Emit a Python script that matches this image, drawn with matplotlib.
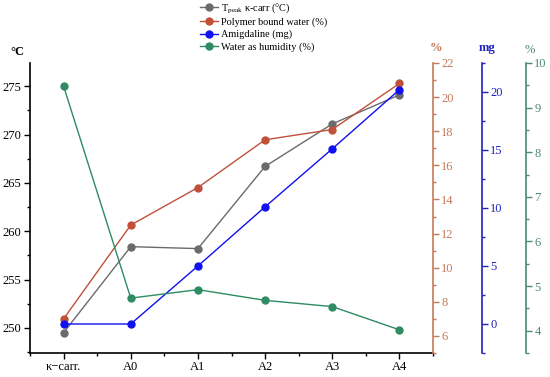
import numpy as np
from matplotlib import pyplot as plt
from matplotlib.ticker import MultipleLocator
from matplotlib.legend_handler import HandlerLine2D

plt.rcParams['font.family'] = ['Liberation Serif', 'DejaVu Serif']
plt.rcParams['mathtext.fontset'] = 'stix'

samples = ['κ−carr.', 'A0', 'A1', 'A2', 'A3', 'A4']
t_peak = [249.5, 258.4, 258.2, 266.7, 271.1, 274.1]
bound_water = [7.0, 12.5, 14.7, 17.5, 18.1, 20.8]
amigdaline = [0.0, 0.0, 5.0, 10.1, 15.1, 20.2]
humidity = [9.48, 4.73, 4.92, 4.68, 4.54, 4.02]

c_gray = '#6b6b6b'
c_red = '#c0503a'
c_red_ax = '#c47a5a'
c_blue = '#1010f0'
c_blue_ax = '#2020c0'
c_green = '#2e8b62'
c_green_ax = '#4a8a6e'


class LeftMarker(HandlerLine2D):
    # marker on the left end of the legend line, like the original
    def get_xdata(self, legend, xdescent, ydescent, width, height, fontsize):
        xdata = np.array([-xdescent, -xdescent + width])
        return xdata, np.array([-xdescent + 1.5])


x = np.arange(len(samples))

fig = plt.figure(figsize=(5.5, 3.77), dpi=100)
ax = fig.add_axes([30/550, 24/377, 403/550, 290/377])
ax2 = ax.twinx()
ax3 = ax.twinx()
ax4 = ax.twinx()
ax3.spines['right'].set_position(('axes', 1.1216))
ax4.spines['right'].set_position(('axes', 1.2308))

l1, = ax.plot(x, t_peak, '-o', color=c_gray, ms=5, lw=1, label=r'T$_{\rm peak}$ κ-carr (°C)')
l2, = ax2.plot(x, bound_water, '-o', color=c_red, ms=5, lw=1, label='Polymer bound water (%)')
l3, = ax3.plot(x, amigdaline, '-o', color=c_blue, ms=5, lw=1, label='Amigdaline (mg)')
l4, = ax4.plot(x, humidity, '-o', color=c_green, ms=5, lw=1, label='Water as humidity (%)')

ax.set_xlim(-0.5, 5.5)
ax.set_xticks(x)
ax.set_xticklabels(samples)
ax.xaxis.set_minor_locator(MultipleLocator(0.5))
ax.set_ylim(247.4, 277.4)
ax.yaxis.set_major_locator(MultipleLocator(5))
ax.yaxis.set_minor_locator(MultipleLocator(2.5))

ax2.set_ylim(5, 22)
ax2.yaxis.set_major_locator(MultipleLocator(2))
ax2.yaxis.set_minor_locator(MultipleLocator(1))
ax3.set_ylim(-2.5, 22.5)
ax3.yaxis.set_major_locator(MultipleLocator(5))
ax3.yaxis.set_minor_locator(MultipleLocator(2.5))
ax4.set_ylim(3.5, 10)
ax4.yaxis.set_major_locator(MultipleLocator(1))
ax4.yaxis.set_minor_locator(MultipleLocator(0.5))

ax.spines['top'].set_visible(False)
ax.spines['right'].set_visible(False)
for a in (ax2, ax3, ax4):
    a.spines['top'].set_visible(False)
    a.spines['left'].set_visible(False)
    a.spines['bottom'].set_visible(False)

ax.tick_params(which='both', direction='out', labelsize=9, width=1, pad=2)
ax.tick_params(which='major', length=4)
ax.tick_params(which='minor', length=2.5)
for a, ca in ((ax2, c_red_ax), (ax3, c_blue_ax), (ax4, c_green_ax)):
    a.spines['right'].set_color(ca)
    a.spines['right'].set_linewidth(1.2)
    a.tick_params(which='both', colors=ca, labelsize=9, width=1, pad=2)
    a.tick_params(which='major', length=4)
    a.tick_params(which='minor', length=2.5)
for s in ('left', 'bottom'):
    ax.spines[s].set_linewidth(1.2)

fig.text(17/550, 1 - 52/377, '°C', ha='center', va='center', fontsize=9, fontweight='bold')
fig.text(436/550, 1 - 48/377, '%', ha='center', va='center', fontsize=9, fontweight='bold', color=c_red_ax)
fig.text(487/550, 1 - 48/377, 'mg', ha='center', va='center', fontsize=9, fontweight='bold', color=c_blue_ax)
fig.text(530/550, 1 - 50/377, '%', ha='center', va='center', fontsize=9, color=c_green_ax)

fig.legend(handles=[l1, l2, l3, l4], loc='upper left', bbox_to_anchor=(199/550, 1.0),
           frameon=False, fontsize=7.4, handlelength=1.7, handletextpad=0.3,
           labelspacing=0.25, borderaxespad=0.0, borderpad=0.1,
           handler_map={l: LeftMarker() for l in (l1, l2, l3, l4)})

fig.savefig('out.png', dpi=100)
